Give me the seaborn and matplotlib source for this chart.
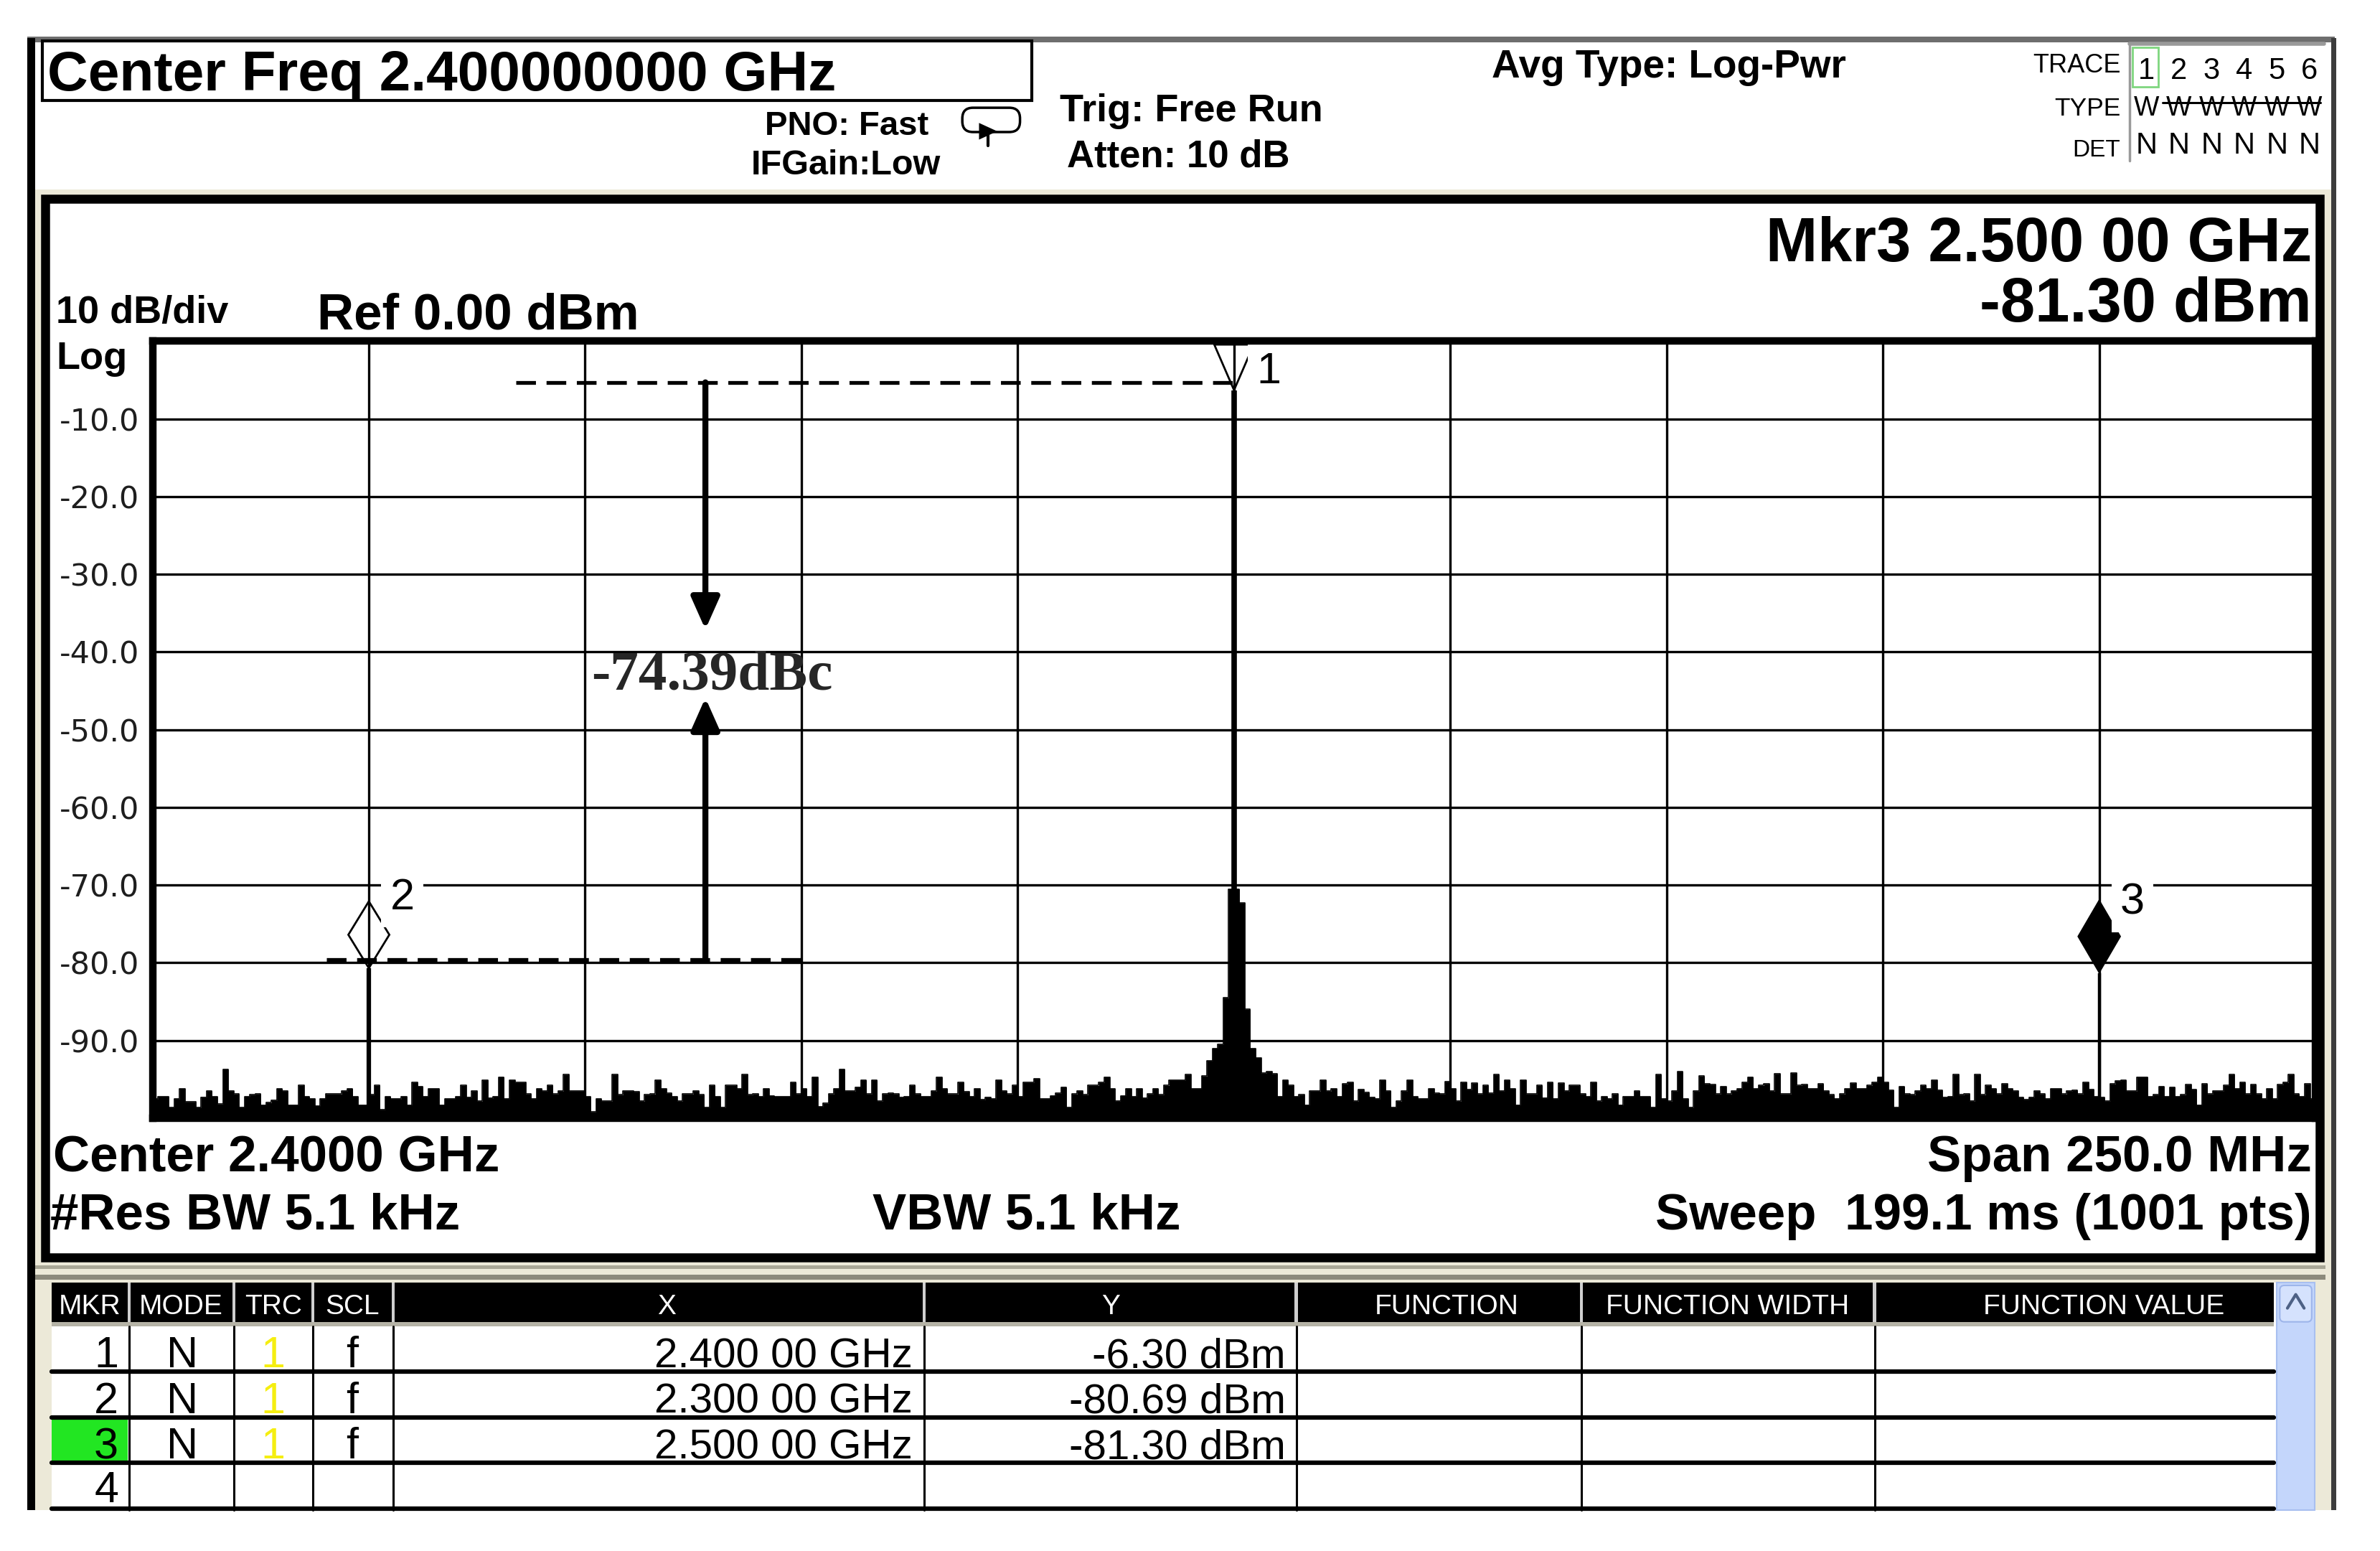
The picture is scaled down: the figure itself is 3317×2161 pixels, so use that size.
import numpy as np
import matplotlib
matplotlib.use("Agg")
import matplotlib.pyplot as plt
import seaborn as sns
from matplotlib import font_manager
from matplotlib.patches import Rectangle, Polygon, FancyBboxPatch

# layout is worked out on a 1568 x 1022 grid (the reference scaled down)
W, H = 1568, 1022

center_ghz = 2.4
span_ghz = 0.25
f_start = center_ghz - span_ghz / 2
f_stop = center_ghz + span_ghz / 2
ref_dbm = 0.0
db_per_div = 10

# trace: 40 bins per division (0.625 MHz each)
div0 = [-97.5, -97.2, -97.2, -98.6, -97.5, -96.2, -97.9, -97.9, -98.6, -97.3,
        -96.5, -97.2, -98.2, -93.7, -96.5, -96.9, -98.6, -97.2, -97.0, -96.9,
        -98.3, -98.0, -97.7, -96.2, -96.5, -98.3, -98.3, -95.8, -97.2, -97.5,
        -98.4, -97.5, -96.9, -96.9, -96.9, -96.5, -96.2, -97.2, -98.3, -98.3]
div1 = [-97.0, -95.8, -98.9, -97.2, -97.5, -97.5, -97.2, -98.3, -95.4, -95.9,
        -97.2, -96.2, -96.2, -98.3, -97.5, -97.5, -97.2, -95.8, -97.3, -96.5,
        -97.8, -95.1, -97.4, -97.2, -94.7, -97.5, -95.1, -95.4, -95.4, -96.9,
        -97.5, -96.2, -96.5, -95.8, -96.9, -96.5, -94.4, -96.5, -96.5, -96.5]
div2 = [-97.2, -99.2, -97.5, -97.8, -97.8, -94.4, -97.0, -96.5, -96.5, -96.6,
        -97.8, -97.0, -96.9, -95.1, -96.2, -96.8, -97.2, -97.8, -96.9, -96.9,
        -96.5, -97.0, -98.6, -95.8, -97.2, -98.6, -95.8, -95.8, -96.2, -94.4,
        -97.0, -96.9, -97.2, -96.2, -97.1, -97.2, -97.2, -97.2, -95.4, -96.9]
div3 = [-96.2, -97.2, -94.7, -98.5, -98.1, -96.9, -96.2, -93.7, -96.5, -96.5,
        -96.0, -95.1, -96.9, -95.1, -97.8, -96.9, -96.8, -96.9, -97.3, -97.2,
        -95.8, -96.9, -97.2, -97.2, -96.5, -94.7, -96.2, -96.9, -96.9, -95.4,
        -96.6, -97.2, -96.2, -97.6, -97.3, -97.5, -95.1, -96.5, -96.9, -95.8]
div4 = [-97.2, -95.4, -95.4, -94.9, -97.5, -97.5, -97.1, -96.8, -96.0, -98.6,
        -96.9, -96.5, -97.0, -95.8, -95.8, -95.4, -94.7, -96.2, -97.8, -97.1,
        -96.2, -97.2, -96.2, -97.4, -96.9, -96.2, -97.0, -95.8, -95.1, -95.1,
        -95.1, -94.4, -96.2, -96.2, -94.6, -92.6, -91.0, -90.5, -84.5, -70.5]
div5 = [-70.5, -72.3, -86.0, -91.0, -92.2, -94.2, -94.0, -94.3, -97.2, -95.1,
        -95.8, -97.2, -97.0, -98.3, -96.5, -96.5, -95.1, -96.5, -96.2, -97.2,
        -95.6, -95.4, -97.8, -96.3, -96.7, -97.3, -97.5, -95.1, -96.5, -98.6,
        -97.8, -96.5, -95.1, -97.2, -97.5, -97.5, -96.2, -96.8, -96.9, -95.3]
div6 = [-96.2, -97.8, -95.4, -96.3, -95.5, -96.9, -95.8, -96.8, -94.4, -96.5,
        -95.1, -96.2, -98.3, -95.1, -96.9, -96.9, -95.8, -97.4, -95.4, -97.5,
        -95.5, -96.5, -95.8, -95.8, -96.9, -97.2, -95.4, -97.8, -97.2, -97.5,
        -96.9, -98.3, -97.2, -97.2, -96.5, -97.2, -97.2, -98.6, -94.4, -97.5]
div7 = [-97.8, -96.5, -94.0, -97.5, -98.6, -96.5, -94.6, -95.6, -95.7, -96.9,
        -95.9, -96.9, -96.5, -96.2, -95.4, -94.7, -96.2, -95.8, -95.6, -96.5,
        -94.3, -96.9, -96.9, -94.2, -95.8, -95.7, -96.2, -96.2, -95.6, -96.5,
        -97.0, -97.5, -96.9, -96.2, -95.5, -96.2, -96.2, -95.8, -95.4, -94.7]
div8 = [-95.4, -96.4, -98.6, -95.9, -96.9, -97.0, -96.5, -95.8, -96.2, -95.1,
        -96.4, -97.3, -97.2, -94.4, -97.0, -96.9, -97.8, -94.4, -97.0, -95.8,
        -96.2, -96.9, -95.6, -96.2, -96.5, -97.3, -97.6, -97.3, -96.5, -96.9,
        -97.5, -96.2, -96.2, -96.9, -96.5, -96.4, -96.9, -95.4, -96.3, -97.2]
div9 = [-97.3, -97.8, -95.6, -95.2, -95.1, -96.5, -96.5, -94.7, -94.7, -97.2,
        -97.0, -95.9, -97.2, -96.0, -97.2, -97.0, -95.7, -96.3, -98.3, -95.6,
        -96.9, -96.5, -96.5, -95.8, -94.4, -96.2, -95.4, -96.9, -95.7, -96.9,
        -97.5, -96.2, -97.5, -95.7, -95.4, -94.4, -96.9, -97.2, -95.6, -97.5]
trace_db = div0 + div1 + div2 + div3 + div4 + div5 + div6 + div7 + div8 + div9

# carrier and spurs (single sweep points)
carrier_ghz = 2.400
carrier_dbm = -6.30
spur_ghz = [2.300, 2.500]
spur_dbm = [-80.69, -81.30]

# markers
mkr_id = ["1", "2", "3"]
mkr_ghz = [2.400, 2.300, 2.500]
mkr_dbm = [-6.30, -80.69, -81.30]

# hand drawn delta annotation
ref_hi_dbm = -5.3
ref_lo_dbm = -79.6
ref_hi_span = [2.317, 2.400]
ref_lo_span = [2.2951, 2.350]
arrow_ghz = 2.3389
arrow_tips = [-37.1, -45.9]
delta_txt_dbm = -43.1

table_cols = ["MKR", "MODE", "TRC", "SCL", "X", "Y",
              "FUNCTION", "FUNCTION WIDTH", "FUNCTION VALUE"]
trace_nums = ["1", "2", "3", "4", "5", "6"]

# ---------------------------------------------------------------------------
names = {f.name for f in font_manager.fontManager.ttflist}
NARROW = "Liberation Sans Narrow" in names
SANS = "Liberation Sans"
COND = "Liberation Sans Narrow" if NARROW else SANS
CK = 1.0 / 0.82 if NARROW else 1.0


def ghz_txt(g):
    s = f"{g:.5f}"
    return s[:5] + " " + s[5:] + " GHz"


sns.set_theme(style="white")
plt.rcParams["font.family"] = [SANS, "DejaVu Sans"]

fig = plt.figure(figsize=(33.17, 21.61), dpi=100)
ax0 = fig.add_axes([0, 0, 1, 1])
ax0.set_xlim(0, W)
ax0.set_ylim(H, 0)
ax0.axis("off")


def put(x, y, s, size, weight="bold", ha="left", family=None, color="black", **kw):
    ax0.text(x, y, s, fontsize=size, fontweight=weight, ha=ha, va="baseline",
             family=family or SANS, color=color, **kw)


def box(x0, y0, x1, y1, fc, ec="none", lw=0, z=0.5):
    ax0.add_patch(Rectangle((x0, y0), x1 - x0, y1 - y0, fc=fc, ec=ec, lw=lw, zorder=z))


BEIGE = "#ECE9D8"

# outer frame and bevels
box(18, 25, 1538, 995, "white")
box(23, 125, 1537, 845, BEIGE, z=0.6)
box(23, 845, 34, 995, BEIGE, z=0.6)
box(1525, 845, 1537, 995, BEIGE, z=0.6)
box(18, 24, 1538, 28, "#6E6E6E", z=0.7)
box(18, 25, 23, 995, "black", z=0.7)
box(1536, 25, 1539, 995, "#3C3C3C", z=0.7)
box(23, 834, 1532, 836, "#A9A796", z=0.7)
box(23, 840, 1532, 843, "#8C8A7C", z=0.7)

# graticule panel (black border)
ax0.add_patch(Rectangle((30, 131), 1498.5, 697.5, fc="white", ec="black", lw=9, zorder=0.8))

# header
ax0.add_patch(Rectangle((28, 27), 652, 39, fc="white", ec="black", lw=3, zorder=1))
put(31, 59.5, f"Center Freq {center_ghz:.9f} GHz", 56.5, zorder=2)
put(504, 89, "PNO: Fast", 34 * CK, family=COND)
put(495, 115, "IFGain:Low", 35 * CK, family=COND)
ax0.add_patch(FancyBboxPatch((634, 71), 38, 16, boxstyle="round,pad=0,rounding_size=7",
                             fc="none", ec="black", lw=2.5))
ax0.add_patch(Polygon([(645, 81), (657, 86.5), (645, 92)], fc="black", ec="none"))
ax0.plot([651, 651], [86, 96], color="black", lw=3)
put(698, 80, "Trig: Free Run", 39 * CK, family=COND)
put(703, 110, "Atten: 10 dB", 38 * CK, family=COND)
put(983, 51, "Avg Type: Log-Pwr", 39.5 * CK, family=COND)

put(1397, 48, "TRACE", 26 * CK, weight="normal", ha="right", family=COND)
put(1397, 76, "TYPE", 25.5 * CK, weight="normal", ha="right", family=COND)
put(1397, 103, "DET", 24 * CK, weight="normal", ha="right", family=COND)
ax0.plot([1403, 1403], [29, 106], color="#9A9A9A", lw=2.5)
ax0.plot([1403, 1531], [29, 29], color="#9A9A9A", lw=4)
ax0.add_patch(Rectangle((1405, 31), 17, 26, fc="none", ec="#7FD67F", lw=2))
trace_x = [1414, 1435.5, 1457, 1478.5, 1500, 1521.5]
for tx, tn in zip(trace_x, trace_nums):
    put(tx, 52, tn, 30, weight="normal", ha="center", family=COND)
    put(tx, 76, "W", 27, weight="normal", ha="center", family=COND)
    put(tx, 101, "N", 30, weight="normal", ha="center", family=COND)
ax0.plot([1425, 1529], [67.5, 67.5], color="black", lw=2.2)

# marker readout, scale labels, sweep info
put(1523, 172, f"Mkr{mkr_id[2]} {ghz_txt(mkr_ghz[2])}", 62.5, ha="right", zorder=2)
put(1523, 212, f"{mkr_dbm[2]:.2f} dBm", 62.5, ha="right", zorder=2)
put(37, 213, f"{db_per_div} dB/div", 39, zorder=2)
put(37, 243, "Log", 39, zorder=2)
put(209, 217, f"Ref {ref_dbm:.2f} dBm", 51, zorder=2)
put(35, 772, f"Center {center_ghz:.4f} GHz", 51, zorder=2)
put(33, 810, "#Res BW 5.1 kHz", 51, zorder=2)
put(575, 810, "VBW 5.1 kHz", 51, zorder=2)
put(1523, 772, f"Span {span_ghz * 1000:.1f} MHz", 51, ha="right", zorder=2)
put(1523, 810, "Sweep  199.1 ms (1001 pts)", 51, ha="right", zorder=2)

# marker table
col_edges = [34, 85, 154, 206, 259, 609, 854, 1042, 1235, 1498]
head_cx = [59, 119, 180, 232, 439, 732, 953, 1138, 1386]
box(34, 845, 1498, 995, "white", z=0.9)
box(34, 845, 1498, 871, "black", z=1)
box(34, 871, 1498, 874, "#B5B3A6", z=1)
for e in col_edges[1:-1]:
    box(e - 1, 845, e + 1, 871, "#CFCFCF", z=1.1)
    ax0.plot([e, e], [874, 995], color="black", lw=2.2, zorder=1.2)
for cx, name in zip(head_cx, table_cols):
    put(cx, 866, name, 28 * CK, weight="normal", ha="center", family=COND, color="white", zorder=2)

row_top = [874, 904, 934, 964]
row_base = [901, 931, 961, 990]
box(34, 934, 84, 963, "#22E622", z=1.1)
for r in range(4):
    ax0.plot([34, 1498], [row_top[r] + 30, row_top[r] + 30], color="black", lw=4.5, zorder=1.3)
    put(78, row_base[r], str(r + 1), 44, weight="normal", ha="right", zorder=2)
for r in range(3):
    b = row_base[r]
    put(120, b, "N", 44, weight="normal", ha="center", zorder=2)
    put(180, b, "1", 44, weight="normal", ha="center", color="#F5EE10", zorder=2)
    put(232, b, "f", 44, weight="normal", ha="center", zorder=2)
    put(601, b, ghz_txt(mkr_ghz[r]), 42 * CK, weight="normal", ha="right", family=COND, zorder=2)
    put(847, b, f"{mkr_dbm[r]:.2f} dBm", 42 * CK, weight="normal", ha="right", family=COND, zorder=2)

# scrollbar
box(1500, 845, 1525, 995, "#C4D6FB", ec="#A8BFF0", lw=1.5, z=1)
ax0.add_patch(FancyBboxPatch((1502, 847), 21, 24, boxstyle="round,pad=0,rounding_size=3",
                             fc="#D5E2FD", ec="#9DB5EA", lw=1.5, zorder=1.2))
ax0.plot([1507, 1512.5, 1518], [862, 853, 862], color="#4D6185", lw=3, zorder=1.3)

# ---------------------------------------------------------------------------
# graticule
gx0, gx1, gy0, gy1 = 100.5, 1525.5, 224.8, 736.8
ax = fig.add_axes([gx0 / W, 1 - gy1 / H, (gx1 - gx0) / W, (gy1 - gy0) / H])
ax.set_facecolor("white")
ax.set_xlim(f_start, f_stop)
ax.set_ylim(ref_dbm - 10 * db_per_div, ref_dbm)
ax.set_xticks([f_start + i * span_ghz / 10 for i in range(1, 10)])
ax.set_xticklabels([])
yt = [ref_dbm - db_per_div * i for i in range(1, 10)]
ax.set_yticks(yt)
ax.set_yticklabels([f"{v:.1f}" for v in yt], family="DejaVu Sans", fontsize=31, color="#1E1E1E")
ax.tick_params(length=0, pad=13)
ax.grid(True, color="black", lw=2.4)
for sp in ax.spines.values():
    sp.set_color("black")
    sp.set_linewidth(7.5)
    sp.set_zorder(6)
ax.set_xlabel("")
ax.set_ylabel("")

px_ghz = (gx1 - gx0) / span_ghz
px_db = (gy1 - gy0) / (10 * db_per_div)

bin_ghz = span_ghz / len(trace_db)
edges = f_start + bin_ghz * np.arange(len(trace_db) + 1)
levels = np.append(trace_db, trace_db[-1])
bottom = ref_dbm - 10 * db_per_div
ax.fill_between(edges, bottom, levels, step="post", color="black", lw=0, zorder=2.2)
sns.lineplot(x=edges, y=levels, drawstyle="steps-post", color="black", lw=1.2, ax=ax, zorder=2.3)
ax.vlines(carrier_ghz, bottom, carrier_dbm, color="black", lw=5.5, zorder=2.4)
ax.vlines(spur_ghz[0], bottom, spur_dbm[0], color="black", lw=4.5, zorder=2.4)
ax.vlines(spur_ghz[1], bottom, spur_dbm[1], color="black", lw=3.2, zorder=2.4)

# marker glyphs
hw, ht = 13 / px_ghz, 30 / px_db
ax.add_patch(Polygon([(mkr_ghz[0], mkr_dbm[0]), (mkr_ghz[0] + hw, mkr_dbm[0] + ht),
                      (mkr_ghz[0] - hw, mkr_dbm[0] + ht)], closed=True,
                     fc="none", ec="black", lw=2, zorder=3))
hw, ht = 13.5 / px_ghz, 44 / px_db
g, d = mkr_ghz[1], mkr_dbm[1]
ax.add_patch(Polygon([(g, d), (g + hw, d + ht / 2), (g, d + ht), (g - hw, d + ht / 2)],
                     closed=True, fc="none", ec="black", lw=2, zorder=3))
hw, ht = 14 / px_ghz, 48 / px_db
g, d = mkr_ghz[2], mkr_dbm[2]
ax.add_patch(Polygon([(g, d), (g + hw, d + ht / 2), (g, d + ht), (g - hw, d + ht / 2)],
                     closed=True, fc="black", ec="black", lw=1, zorder=3))
label_off = [(23, 12), (22, 46), (22, 46)]
for k in range(3):
    ox, oy = label_off[k]
    ax.text(mkr_ghz[k] + ox / px_ghz, mkr_dbm[k] + oy / px_db, mkr_id[k],
            fontsize=44 * (1.15 if NARROW else 1.0), family=COND, ha="center", va="center",
            color="black", zorder=4,
            bbox=dict(boxstyle="square,pad=0.2", fc="white", ec="none"))

# delta annotation
dash = (0, (5.2, 2.8))
ax.hlines(ref_hi_dbm, ref_hi_span[0], ref_hi_span[1], colors="black", lw=3.8, linestyles=[dash], zorder=3)
ax.hlines(ref_lo_dbm, ref_lo_span[0], ref_lo_span[1], colors="black", lw=3.8, linestyles=[dash], zorder=3)
astyle = dict(arrowstyle="-|>,head_length=0.9,head_width=0.4", mutation_scale=30,
              lw=6, color="black", shrinkA=0, shrinkB=0)
ax.annotate("", xy=(arrow_ghz, arrow_tips[0]), xytext=(arrow_ghz, ref_hi_dbm), arrowprops=astyle, zorder=3)
ax.annotate("", xy=(arrow_ghz, arrow_tips[1]), xytext=(arrow_ghz, ref_lo_dbm), arrowprops=astyle, zorder=3)
ax.text(arrow_ghz + 0.0008, delta_txt_dbm, f"{mkr_dbm[1] - mkr_dbm[0]:.2f}dBc",
        family="Liberation Serif", fontweight="bold", fontsize=57, ha="center", va="center",
        zorder=4)

fig.savefig("out.png", dpi=100, facecolor="white")
